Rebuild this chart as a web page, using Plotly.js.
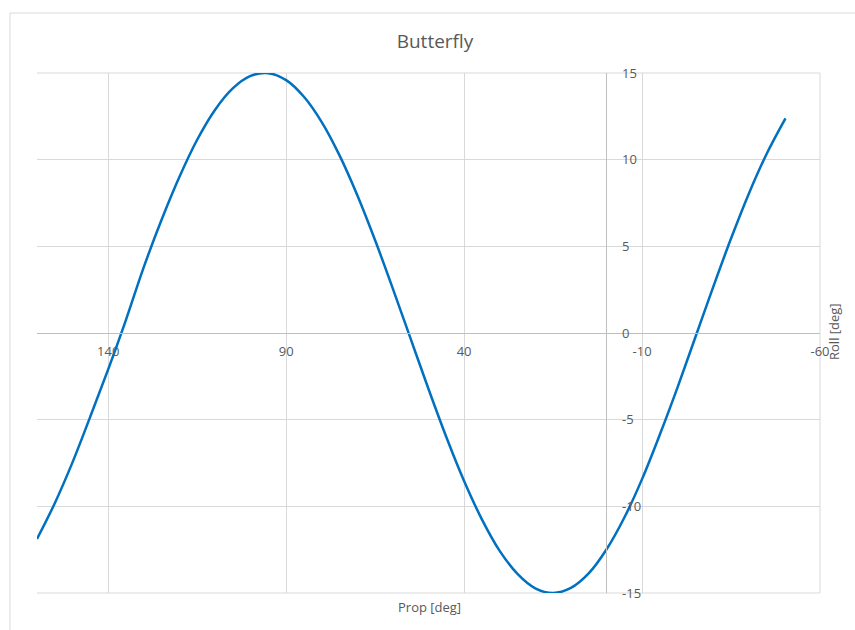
<!DOCTYPE html>
<html>
<head>
<meta charset="utf-8">
<script src="https://cdn.plot.ly/plotly-3.0.1.min.js"></script>
<style>
  html, body { margin: 0; padding: 0; background: #ffffff; }
  #chart { width: 855px; height: 630px; }
</style>
</head>
<body>
<div id="chart"></div>
<script>
// Prop angle [deg] (x) and Roll angle [deg] (y)
const propDeg = [160, 155, 150, 145, 140, 135, 130, 125, 120, 115, 110, 105, 100, 95, 90, 85, 80, 75, 70, 65, 60, 55, 50, 45, 40, 35, 30, 25, 20, 15, 10, 5, 0, -5, -10, -15, -20, -25, -30, -35, -40, -45, -50.3];
const rollDeg = [-11.88, -9.82, -7.45, -4.81, -2.10, 0.76, 3.80, 6.53, 9.00, 11.15, 12.87, 14.11, 14.83, 14.99, 14.59, 13.63, 12.17, 10.25, 7.95, 5.35, 2.55, -0.34, -3.23, -6.00, -8.54, -10.75, -12.57, -13.90, -14.73, -15.00, -14.71, -13.87, -12.49, -10.66, -8.43, -5.86, -3.12, -0.23, 2.66, 5.45, 8.04, 10.33, 12.38];

const xTicks = [140, 90, 40, -10, -60];
const yTicks = [-15, -10, -5, 0, 5, 10, 15];

const chartTitle = "Butterfly";
const xTitle = "Prop [deg]";
const yTitle = "Roll [deg]";

const font = "'Open Sans', 'Liberation Sans', sans-serif";
const textGrey = "#595959";

const trace = {
  x: propDeg,
  y: rollDeg,
  type: "scatter",
  mode: "lines",
  line: { color: "#0070C0", width: 2.5, shape: "spline", smoothing: 1 },
  hoverinfo: "x+y",
  showlegend: false
};

// plot area in pixels: x 37..820, y 73..593
const L = 37, R = 820, T = 73, B = 593;
const px = v => (v - L) / (R - L);
const py = v => (B - v) / (B - T);

const layout = {
  width: 855,
  height: 630,
  margin: { l: L, r: 855 - R, t: T, b: 630 - B, pad: 0 },
  paper_bgcolor: "#ffffff",
  plot_bgcolor: "#ffffff",
  font: { family: font, size: 13, color: textGrey },
  title: {
    text: chartTitle,
    font: { family: font, size: 19, color: textGrey },
    xref: "container", yref: "container",
    x: 435 / 855, xanchor: "center",
    y: 1 - 41 / 630, yanchor: "middle"
  },
  xaxis: {
    range: [160, -60],
    tickmode: "array",
    tickvals: xTicks,
    ticktext: xTicks.map(String),
    showgrid: true,
    gridcolor: "#d9d9d9",
    gridwidth: 1,
    zeroline: false,
    showline: true,
    linecolor: "#bfbfbf",
    linewidth: 1,
    anchor: "free",
    position: 0.5,
    side: "bottom",
    ticks: "",
    ticklabelstandoff: 6,
    tickfont: { family: font, size: 13, color: textGrey },
    fixedrange: true
  },
  yaxis: {
    range: [-15, 15],
    tickmode: "array",
    tickvals: yTicks,
    ticktext: yTicks.map(String),
    showgrid: true,
    gridcolor: "#d9d9d9",
    gridwidth: 1,
    zeroline: false,
    showline: true,
    linecolor: "#bfbfbf",
    linewidth: 1,
    anchor: "free",
    position: 160 / 220,
    side: "right",
    ticks: "",
    ticklabelstandoff: 12,
    tickfont: { family: font, size: 13, color: textGrey },
    fixedrange: true
  },
  shapes: [
    { type: "line", xref: "paper", yref: "paper", x0: 1, x1: 1, y0: 0, y1: 1, line: { color: "#d9d9d9", width: 1 }, layer: "below" },
    { type: "line", xref: "paper", yref: "paper", x0: 0, x1: 1, y0: 0, y1: 0, line: { color: "#d9d9d9", width: 1 }, layer: "below" },
    { type: "line", xref: "paper", yref: "paper", x0: 0, x1: 1, y0: 1, y1: 1, line: { color: "#d9d9d9", width: 1 }, layer: "below" },
    { type: "line", xref: "paper", yref: "paper", x0: px(10), x1: px(10), y0: py(632), y1: py(13), line: { color: "#d9d9d9", width: 1 } },
    { type: "line", xref: "paper", yref: "paper", x0: px(10), x1: px(857), y0: py(13), y1: py(13), line: { color: "#d9d9d9", width: 1 } }
  ],
  annotations: [
    {
      text: xTitle, xref: "paper", yref: "paper",
      x: px(429), y: py(607), xanchor: "center", yanchor: "middle",
      showarrow: false, font: { family: font, size: 13, color: textGrey }
    },
    {
      text: yTitle, xref: "paper", yref: "paper",
      x: px(834), y: py(332), xanchor: "center", yanchor: "middle",
      textangle: -90,
      showarrow: false, font: { family: font, size: 13, color: textGrey }
    }
  ]
};

Plotly.newPlot("chart", [trace], layout, { displayModeBar: false, staticPlot: true });
</script>
</body>
</html>
